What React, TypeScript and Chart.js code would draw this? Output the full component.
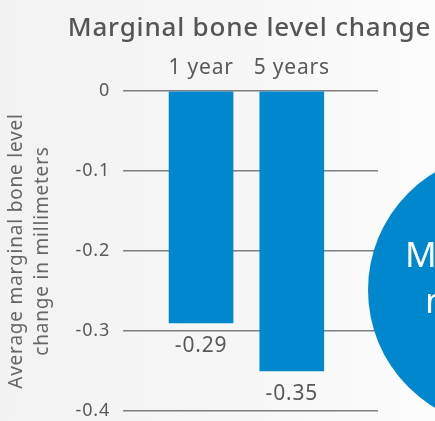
import { useEffect, useRef } from "react";
import { Chart, registerables } from "chart.js";

Chart.register(...registerables);

const categories = ["1 year", "5 years"];
const values = [-0.29, -0.35];
const yTicks = [0, -0.1, -0.2, -0.3, -0.4];
const chartTitle = "Marginal bone level change";
const yTitle = ["Average marginal bone level", "change in millimeters"];
const circleLines = ["Minimal", "negligible"];

const FAMILY = "'Noto Sans', 'Open Sans', sans-serif";
const GRAY = "#595959";
const BLUE = "#0087cd";

export default function App() {
  const ref = useRef<HTMLCanvasElement | null>(null);

  useEffect(() => {
    document.body.style.margin = "0";
    const canvas = ref.current;
    if (!canvas) return;
    const c2d: any = canvas.getContext("2d");
    if (c2d) c2d.letterSpacing = "0.8px";

    const spacing = {
      id: "spacing",
      beforeInit(chart: any) {
        chart.ctx.letterSpacing = "0.8px";
      },
      beforeDraw(chart: any) {
        chart.ctx.letterSpacing = "0.8px";
      },
    };

    const titlePlugin = {
      id: "centeredTitle",
      afterDraw(chart: any) {
        const { ctx, chartArea } = chart;
        ctx.save();
        ctx.letterSpacing = "0.8px";
        ctx.fillStyle = "#555555";
        ctx.font = `500 26px ${FAMILY}`;
        ctx.textAlign = "center";
        ctx.textBaseline = "alphabetic";
        ctx.fillText(chartTitle, (chartArea.left + chartArea.right) / 2 - 1, 36);
        ctx.restore();
      },
    };

    const valueLabels = {
      id: "valueLabels",
      afterDatasetsDraw(chart: any) {
        const ctx = chart.ctx;
        const meta = chart.getDatasetMeta(0);
        ctx.save();
        ctx.fillStyle = GRAY;
        ctx.font = `21px ${FAMILY}`;
        ctx.textAlign = "center";
        ctx.textBaseline = "alphabetic";
        meta.data.forEach((bar: any, i: number) => {
          ctx.fillText(values[i].toFixed(2), bar.x, bar.y + 29);
        });
        ctx.restore();
      },
    };

    const circle = {
      id: "circle",
      afterDraw(chart: any) {
        const { ctx, chartArea } = chart;
        const cx = chartArea.right + 127;
        const cy = chartArea.top + 199;
        const r = 137;
        ctx.save();
        ctx.fillStyle = BLUE;
        ctx.beginPath();
        ctx.arc(cx, cy, r, 0, Math.PI * 2);
        ctx.fill();
        ctx.fillStyle = "#ffffff";
        ctx.font = `35px ${FAMILY}`;
        ctx.textAlign = "left";
        ctx.textBaseline = "alphabetic";
        ctx.fillText(circleLines[0], cx - 100, cy - 23);
        ctx.fillText(circleLines[1], cx - 80, cy + 23);
        ctx.restore();
      },
    };

    const chart = new Chart(canvas, {
      type: "bar",
      data: {
        datasets: [
          {
            data: categories.map((_, i) => ({ x: i + 1, y: values[i] })) as any,
            backgroundColor: BLUE,
            barThickness: 64,
          },
        ],
      },
      options: {
        animation: false,
        responsive: false,
        layout: { padding: { top: 58, right: 57, bottom: 10, left: 0 } },
        plugins: {
          legend: { display: false },
          tooltip: { enabled: false },
          title: { display: false },
        },
        scales: {
          x: {
            type: "linear",
            position: "top",
            offset: false,
            min: 0.14,
            max: 2.95,
            grid: { display: false, drawTicks: false },
            border: { display: false },
            afterBuildTicks: (s: any) => {
              s.ticks = categories.map((_, i) => ({ value: i + 1 }));
            },
            afterFit: (s: any) => {
              s.height = 33;
              s.paddingLeft = 0;
              s.paddingRight = 0;
            },
            ticks: {
              callback: (v: any) => categories[Number(v) - 1],
              color: GRAY,
              font: { family: FAMILY, size: 21 },
              padding: 10,
              maxRotation: 0,
              autoSkip: false,
            },
          },
          y: {
            min: -0.4,
            max: 0,
            afterBuildTicks: (s: any) => {
              s.ticks = yTicks.map((v) => ({ value: v }));
            },
            afterFit: (s: any) => {
              s.width = 123;
              s.paddingTop = 0;
              s.paddingBottom = 0;
            },
            grid: { color: "#7f7f7f", lineWidth: 1.5, drawTicks: false },
            border: { display: false },
            ticks: {
              callback: (v: any) => String(Math.round(Number(v) * 10) / 10),
              color: GRAY,
              font: { family: FAMILY, size: 18 },
              padding: 13,
            },
            title: {
              display: true,
              text: yTitle,
              color: "#666666",
              font: { family: FAMILY, size: 19, lineHeight: "26px" as any },
              padding: { top: 4, bottom: 0 },
            },
          },
        },
      },
      plugins: [spacing, titlePlugin, valueLabels, circle],
    });

    return () => chart.destroy();
  }, []);

  return (
    <div
      style={{
        width: 435,
        height: 421,
        background: "linear-gradient(90deg, #f2f2f2 0%, #f6f6f6 50%, #fcfcfc 100%)",
      }}
    >
      <canvas ref={ref} width={435} height={421} />
    </div>
  );
}
